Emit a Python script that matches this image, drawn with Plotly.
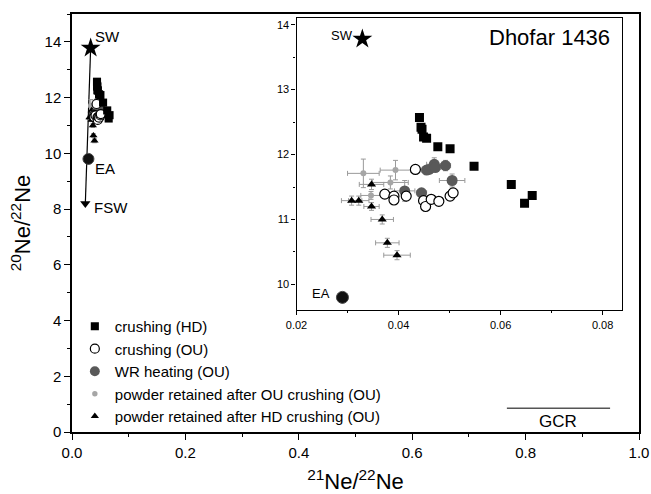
import plotly.graph_objects as go

# ---------------- data ----------------
hd_x = [0.0441, 0.0444, 0.0446, 0.0449, 0.0455, 0.0477, 0.0501, 0.0548, 0.0621, 0.0662, 0.0647]
hd_y = [12.57, 12.42, 12.39, 12.27, 12.25, 12.12, 12.09, 11.82, 11.54, 11.37, 11.25]

ou_x = [0.0433, 0.0373, 0.0391, 0.0391, 0.0415, 0.0449, 0.0453, 0.0464, 0.0479, 0.0501, 0.0507]
ou_y = [11.77, 11.39, 11.36, 11.30, 11.36, 11.29, 11.20, 11.31, 11.28, 11.36, 11.41]
ou_xerr = [0.0008, 0.0008, 0.0008, 0.0008, 0.0008, 0.0008, 0.0008, 0.0008, 0.0008, 0.0008, 0.0008]
ou_yerr = [0.04, 0.04, 0.04, 0.04, 0.04, 0.04, 0.04, 0.04, 0.04, 0.04, 0.04]

wr_x = [0.0412, 0.0445, 0.0455, 0.0460, 0.0470, 0.0472, 0.0492, 0.0505]
wr_y = [11.44, 11.41, 11.76, 11.77, 11.85, 11.80, 11.83, 11.60]
wr_xerr = [0.002, 0.001, 0.001, 0.001, 0.0015, 0.001, 0.001, 0.0025]
wr_yerr = [0.16, 0.05, 0.05, 0.05, 0.1, 0.05, 0.08, 0.1]

pou_x = [0.0331, 0.0394, 0.0384, 0.0346]
pou_y = [11.71, 11.76, 11.57, 11.37]
pou_xerr = [0.0031, 0.003, 0.0035, 0.002]
pou_yerr = [0.22, 0.15, 0.1, 0.06]

phd_x = [0.0308, 0.0322, 0.0347, 0.0347, 0.0368, 0.0378, 0.0397]
phd_y = [11.29, 11.29, 11.54, 11.20, 11.00, 10.64, 10.45]
phd_xerr = [0.002, 0.002, 0.0024, 0.0015, 0.0022, 0.0023, 0.0026]
phd_yerr = [0.07, 0.07, 0.08, 0.06, 0.07, 0.07, 0.07]

sw = (0.0329, 13.78)
ea = (0.029, 9.80)
fsw = (0.0235, 8.2)

gcr_x = [0.767, 0.949]
gcr_y = 0.85

names = ["crushing (HD)", "crushing (OU)", "WR heating (OU)",
         "powder retained after OU crushing (OU)",
         "powder retained after HD crushing (OU)"]

FONT = "Arial, Liberation Sans, sans-serif"
ERRC = "#9a9a9a"

fig = go.Figure()


def add_series(xa, ya, showlegend, scale):
    def err(arr):
        return dict(type="data", array=arr, color=ERRC, thickness=1, width=2.5 * scale)
    fig.add_trace(go.Scatter(
        x=pou_x, y=pou_y, mode="markers", name=names[3], legendrank=4,
        showlegend=showlegend, xaxis=xa, yaxis=ya,
        error_x=err(pou_xerr), error_y=err(pou_yerr),
        marker=dict(symbol="circle", size=6 * scale, color="#a6a6a6")))
    fig.add_trace(go.Scatter(
        x=phd_x, y=phd_y, mode="markers", name=names[4], legendrank=5,
        showlegend=showlegend, xaxis=xa, yaxis=ya,
        error_x=err(phd_xerr), error_y=err(phd_yerr),
        marker=dict(symbol="triangle-up", size=8 * scale, color="black")))
    fig.add_trace(go.Scatter(
        x=wr_x, y=wr_y, mode="markers", name=names[2], legendrank=3,
        showlegend=showlegend, xaxis=xa, yaxis=ya,
        error_x=err(wr_xerr), error_y=err(wr_yerr),
        marker=dict(symbol="circle", size=11 * scale, color="#595959")))
    fig.add_trace(go.Scatter(
        x=ou_x, y=ou_y, mode="markers", name=names[1], legendrank=2,
        showlegend=showlegend, xaxis=xa, yaxis=ya,
        error_x=err(ou_xerr), error_y=err(ou_yerr),
        marker=dict(symbol="circle", size=10 * scale, color="white",
                    line=dict(color="black", width=1.2))))
    fig.add_trace(go.Scatter(
        x=hd_x, y=hd_y, mode="markers", name=names[0], legendrank=1,
        showlegend=showlegend, xaxis=xa, yaxis=ya,
        marker=dict(symbol="square", size=9 * scale, color="black")))
    # SW star and EA ball
    fig.add_trace(go.Scatter(
        x=[sw[0]], y=[sw[1]], mode="markers", showlegend=False, xaxis=xa, yaxis=ya,
        marker=dict(symbol="star", size=15, color="black")))
    fig.add_trace(go.Scatter(
        x=[ea[0]], y=[ea[1]], mode="markers", showlegend=False, xaxis=xa, yaxis=ya,
        marker=dict(symbol="circle", size=12 if scale == 1 else 11, color="#111111",
                    line=dict(color="#444444", width=1))))


# main plot: arrow SW -> FSW
fig.add_trace(go.Scatter(x=[sw[0], fsw[0]], y=[sw[1], fsw[1]], mode="lines",
                         showlegend=False, line=dict(color="black", width=1.2)))
fig.add_trace(go.Scatter(x=[fsw[0]], y=[fsw[1]], mode="markers", showlegend=False,
                         marker=dict(symbol="triangle-down", size=9, color="black")))

add_series("x", "y", True, 0.9)
add_series("x2", "y2", False, 1)

# GCR line
fig.add_trace(go.Scatter(x=gcr_x, y=[gcr_y, gcr_y], mode="lines", showlegend=False,
                         line=dict(color="#555555", width=1.5)))

ann = []
ann.append(dict(x=0.037, y=14.2, xref="x", yref="y", text="SW", showarrow=False,
                xanchor="left", font=dict(size=15, family=FONT, color="black")))
ann.append(dict(x=0.037, y=9.45, xref="x", yref="y", text="EA", showarrow=False,
                xanchor="left", font=dict(size=15, family=FONT, color="black")))
ann.append(dict(x=0.035, y=8.05, xref="x", yref="y", text="FSW", showarrow=False,
                xanchor="left", font=dict(size=15, family=FONT, color="black")))
ann.append(dict(x=(gcr_x[0] + gcr_x[1]) / 2, y=0.38, xref="x", yref="y", text="GCR",
                showarrow=False, font=dict(size=17, family=FONT, color="black")))
ann.append(dict(x=0.0314, y=13.84, xref="x2", yref="y2", text="SW", showarrow=False,
                xanchor="right", font=dict(size=13, family=FONT, color="black")))
ann.append(dict(x=0.0269, y=9.86, xref="x2", yref="y2", text="EA", showarrow=False,
                xanchor="right", font=dict(size=13, family=FONT, color="black")))
ann.append(dict(x=0.0818, y=13.81, xref="x2", yref="y2", text="Dhofar 1436",
                showarrow=False, xanchor="right",
                font=dict(size=22, family=FONT, color="black")))

axis_common = dict(showline=True, linecolor="black", linewidth=1.5, mirror=True,
                   ticks="outside", tickcolor="black", showgrid=False, zeroline=False)

fig.update_layout(
    width=651, height=494,
    margin=dict(l=72, r=12, t=14, b=62),
    paper_bgcolor="white", plot_bgcolor="white",
    font=dict(family=FONT, color="black"),
    showlegend=True,
    legend=dict(x=0.005, y=0.292, xanchor="left", yanchor="top",
                bgcolor="rgba(0,0,0,0)", font=dict(size=15, family=FONT),
                traceorder="normal", itemwidth=30),
    annotations=ann,
    xaxis=dict(axis_common, domain=[0, 1], range=[0, 1.0], dtick=0.2, tickformat=".1f",
               ticklen=6, tickwidth=1.2, minor=dict(ticks="outside", dtick=0.1, ticklen=3,
                                                    tickcolor="black"),
               tickfont=dict(size=15), automargin=False,
               title=dict(text="<sup>21</sup>Ne/<sup>22</sup>Ne", font=dict(size=22),
                          standoff=14)),
    yaxis=dict(axis_common, domain=[0, 1], range=[0, 15], dtick=2, ticklen=6,
               tickwidth=1.2, minor=dict(ticks="outside", dtick=1, ticklen=3,
                                         tickcolor="black"),
               tickfont=dict(size=15), automargin=False,
               title=dict(text="<sup>20</sup>Ne/<sup>22</sup>Ne", font=dict(size=22),
                          standoff=8)),
    xaxis2=dict(axis_common, domain=[0.396, 0.970], anchor="y2", range=[0.02, 0.0838],
                dtick=0.02, tick0=0.02, tickformat=".2f", ticklen=4, linewidth=1.2,
                minor=dict(ticks="outside", dtick=0.01, ticklen=2, tickcolor="black"),
                tickfont=dict(size=11)),
    yaxis2=dict(axis_common, domain=[0.291, 0.990], anchor="x2", range=[9.6, 14.1],
                dtick=1, ticklen=4, linewidth=1.2,
                minor=dict(ticks="outside", dtick=0.5, ticklen=2, tickcolor="black"),
                tickfont=dict(size=11)),
)

fig.write_html("out.html")
